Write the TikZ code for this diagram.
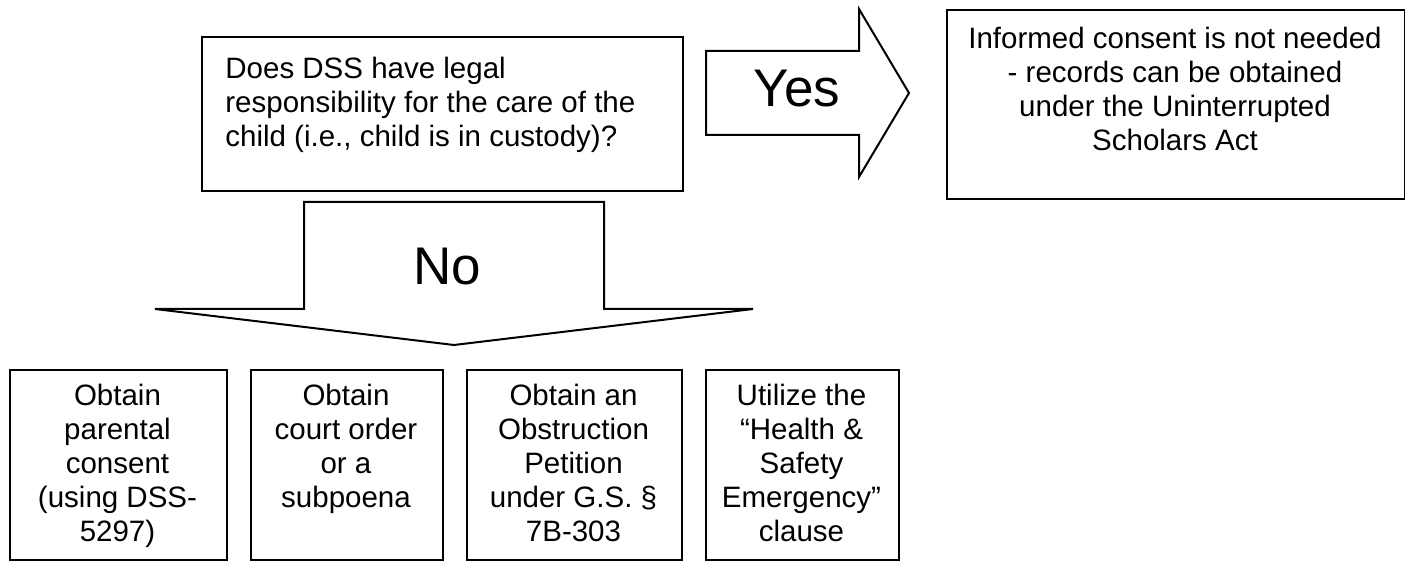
\documentclass[tikz,border=0pt]{standalone}
\usepackage{fontspec}
\setmainfont{Liberation Sans}
\tikzset{
  box/.style={draw=black, line width=1pt, inner sep=0pt, anchor=north west},
  txt/.style={inner sep=0pt, font=\fontsize{14.75pt}{17pt}\selectfont},
  bigtxt/.style={inner sep=0pt, anchor=base, font=\fontsize{26.5pt}{30pt}\selectfont},
  blockarrow/.style={draw=black, line width=1pt, fill=white, line join=miter},
}
\begin{document}
\begin{tikzpicture}[x=0.5pt, y=-0.5pt]
\useasboundingbox (0,0) rectangle (1405,561);
% boxes
\node[box, minimum width=240.5pt, minimum height=77pt] (q) at (201,36) {};
\node[box, minimum width=229pt, minimum height=94.5pt] (r) at (946,9) {};
\node[box, minimum width=108.5pt, minimum height=95pt] (b1) at (9,369) {};
\node[box, minimum width=96pt, minimum height=95pt] (b2) at (250,369) {};
\node[box, minimum width=107.5pt, minimum height=95pt] (b3) at (466,369) {};
\node[box, minimum width=96.5pt, minimum height=95pt] (b4) at (705,369) {};
% texts
\node[txt, anchor=base west] (qt) at (225,79) {\parbox[t]{236pt}{\raggedright Does DSS have legal\\responsibility for the care of the\\child (i.e., child is in custody)?}};
\node[txt, anchor=base] (rt) at (1175,49) {\parbox[t]{226pt}{\centering Informed consent is not needed\\- records can be obtained\\under the Uninterrupted\\Scholars Act}};
\node[txt, anchor=base] (b1t) at (117.5,406) {\parbox[t]{106pt}{\centering Obtain\\parental\\consent\\(using DSS-\\5297)}};
\node[txt, anchor=base] (b2t) at (346,406) {\parbox[t]{94pt}{\centering Obtain\\court order\\or a\\subpoena}};
\node[txt, anchor=base] (b3t) at (573.5,406) {\parbox[t]{106pt}{\centering Obtain an\\Obstruction\\Petition\\under G.S. \S\\7B-303}};
\node[txt, anchor=base] (b4t) at (801.5,406) {\parbox[t]{95pt}{\centering Utilize the\\“Health \&\\Safety\\Emergency”\\clause}};
% Yes arrow
\coordinate (ya) at (706,51);
\coordinate (yb) at (859,51);
\coordinate (yc) at (859,9);
\coordinate (ytip) at (909,93);
\coordinate (yd) at (859,177);
\coordinate (ye) at (859,135);
\coordinate (yf) at (706,135);
\draw[blockarrow] (ya) -- (yb) -- (yc) -- (ytip) -- (yd) -- (ye) -- (yf) -- cycle;
\node[bigtxt] (yes) at (797,107) {Yes};
% No arrow
\coordinate (na) at (304,202);
\coordinate (nb) at (604,202);
\coordinate (nc) at (604,309);
\coordinate (nd) at (753,309);
\coordinate (ntip) at (454,345);
\coordinate (ne) at (155,309);
\coordinate (nf) at (304,309);
\draw[blockarrow] (na) -- (nb) -- (nc) -- (nd) -- (ntip) -- (ne) -- (nf) -- cycle;
\node[bigtxt] (no) at (447,285) {No};
\end{tikzpicture}
\end{document}
